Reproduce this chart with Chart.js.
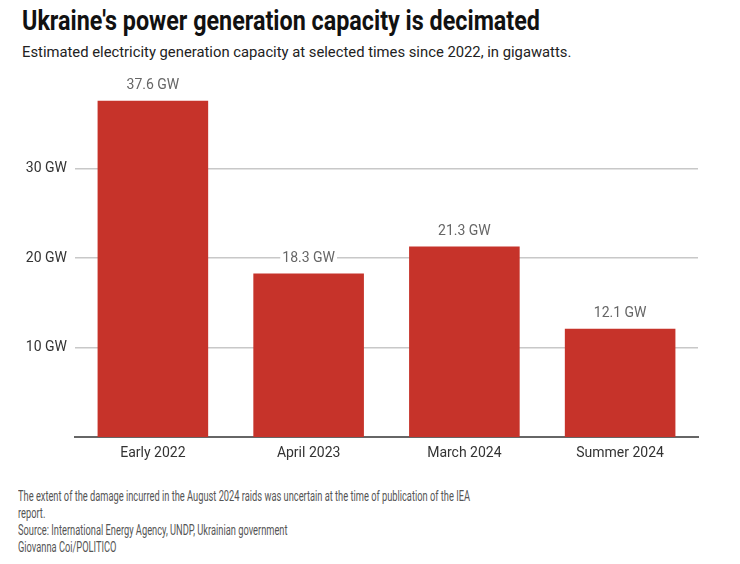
<!DOCTYPE html>
<html>
<head>
<meta charset="utf-8">
<script src="https://cdn.jsdelivr.net/npm/chart.js@4"></script>
<style>
    body { margin: 0; width: 740px; height: 564px; background: #fff; position: relative; overflow: hidden; font-family: Roboto, sans-serif; }
    #title { position: absolute; left: 22px; top: 5px; font-family: Roboto, sans-serif; font-weight: bold; font-size: 27px; color: #111; white-space: nowrap; transform-origin: 0 0; }
    #subtitle { position: absolute; left: 22px; top: 43px; font-size: 14.8px; color: #222; white-space: nowrap; }
    #chart-box { position: absolute; left: 0; top: 63px; width: 740px; height: 407px; }
    #footer { position: absolute; left: 18px; top: 488px; font-family: Roboto, sans-serif; font-size: 14.5px; line-height: 17px; color: #555; white-space: nowrap; transform-origin: 0 0; }
</style>
</head>
<body>
<div id="title">Ukraine's power generation capacity is decimated</div>
<div id="subtitle">Estimated electricity generation capacity at selected times since 2022, in gigawatts.</div>
<div id="chart-box"><canvas id="capacity-chart"></canvas></div>
<div id="footer">
    <span id="footer-first">The extent of the damage incurred in the August 2024 raids was uncertain at the time of publication of the IEA</span><br>
    report.<br>
    Source: International Energy Agency, UNDP, Ukrainian government<br>
    Giovanna Coi/POLITICO
</div>
<script>
const periods = ['Early 2022', 'April 2023', 'March 2024', 'Summer 2024'];
const capacityGW = [37.6, 18.3, 21.3, 12.1];
const yTicks = [10, 20, 30];

const barColor = '#c6332a';

// the original uses a condensed face we don't have, so squeeze to the same width
function squeeze(el, measureEl, targetWidth) {
    const w = measureEl.getBoundingClientRect().width;
    el.style.transform = `scaleX(${targetWidth / w})`;
}
squeeze(document.getElementById('title'), document.getElementById('title'), 518);
squeeze(document.getElementById('footer'), document.getElementById('footer-first'), 452);

// value labels above each bar, on a white box so the gridline breaks around them
const valueLabels = {
    id: 'valueLabels',
    afterDatasetsDraw(chart) {
        const ctx = chart.ctx;
        const meta = chart.getDatasetMeta(0);
        ctx.save();
        ctx.font = '14px Roboto, sans-serif';
        ctx.textAlign = 'center';
        ctx.textBaseline = 'middle';
        meta.data.forEach((bar, i) => {
            const text = `${capacityGW[i]} GW`;
            const w = ctx.measureText(text).width;
            const y = bar.y - 15;
            ctx.fillStyle = '#fff';
            ctx.fillRect(bar.x - w / 2 - 2, y - 8, w + 4, 16);
            ctx.fillStyle = '#666';
            ctx.fillText(text, bar.x, y);
        });
        ctx.restore();
    }
};

new Chart(document.getElementById('capacity-chart'), {
    type: 'bar',
    data: {
        labels: periods,
        datasets: [{
            data: capacityGW,
            backgroundColor: barColor,
            categoryPercentage: 0.71,
            barPercentage: 1
        }]
    },
    options: {
        responsive: true,
        maintainAspectRatio: false,
        animation: false,
        layout: { padding: { top: 1, right: 42, left: 0, bottom: 0 } },
        plugins: { legend: { display: false }, tooltip: { enabled: false } },
        scales: {
            x: {
                grid: { display: false, drawTicks: false },
                border: { color: '#666', width: 2 },
                ticks: { color: '#333', font: { family: 'Roboto', size: 14 }, padding: 8 },
                afterFit(axis) { axis.height = 33; }
            },
            y: {
                min: 0,
                max: 40,
                afterBuildTicks(axis) { axis.ticks = yTicks.map(v => ({ value: v })); },
                grid: { color: '#c8c8c8', lineWidth: 1.5, drawTicks: false },
                border: { display: false },
                ticks: {
                    color: '#333',
                    font: { family: 'Roboto', size: 14 },
                    padding: 8,
                    callback: v => `${v} GW`
                },
                afterFit(axis) { axis.width = 75; }
            }
        }
    },
    plugins: [valueLabels]
});
</script>
</body>
</html>
